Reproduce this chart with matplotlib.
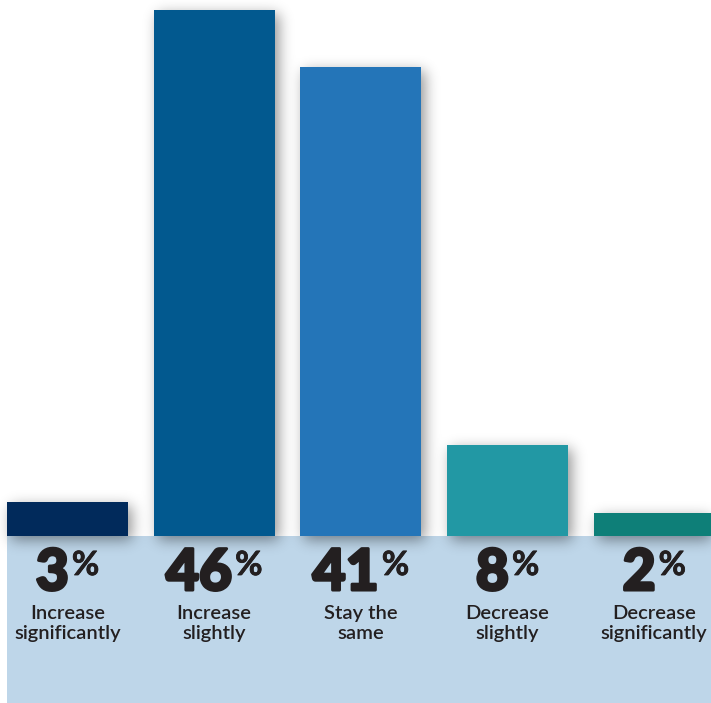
import numpy as np
import matplotlib
matplotlib.use("Agg")
import matplotlib.pyplot as plt
from matplotlib.patches import Rectangle
import matplotlib.patheffects as pe

categories = ["Increase\nsignificantly", "Increase\nslightly", "Stay the\nsame",
              "Decrease\nslightly", "Decrease\nsignificantly"]
values = [3, 46, 41, 8, 2]
colors = ["#012A5B", "#02598F", "#2475B8", "#2298A4", "#0E7F78"]

W, H = 711, 703
fig = plt.figure(figsize=(W / 100, H / 100), dpi=100)
ax = fig.add_axes([0, 0, 1, 1])
ax.set_axis_off()

x = np.arange(len(values))
bar_w = 0.825
ax.set_xlim(-0.46, 4.387)
ax.set_ylim(-14.61, 46.9)

# light band under the baseline
band_left = x[0] - bar_w / 2
ax.add_patch(Rectangle((band_left, -14.61), 10, 14.61, color="#BED6E9", zorder=0, lw=0))

# soft drop shadow built from the bar rectangles
fig.canvas.draw()
mask = np.zeros((H, W))
trans = ax.transData
for xi, v in zip(x, values):
    (x0, y0), (x1, y1) = trans.transform([(xi - bar_w / 2, 0), (xi + bar_w / 2, v)])
    off = 4
    r0 = int(round(H - y1)) + off
    r1 = int(round(H - y0)) + off
    c0 = int(round(x0)) + off
    c1 = int(round(x1)) + off
    mask[max(r0, 0):max(r1, 0), max(c0, 0):min(c1, W)] = 1.0

sigma = 7.0
k = np.arange(-int(3 * sigma), int(3 * sigma) + 1)
kern = np.exp(-k ** 2 / (2 * sigma ** 2))
kern /= kern.sum()
blur = np.apply_along_axis(lambda r: np.convolve(r, kern, mode="same"), 1, mask)
blur = np.apply_along_axis(lambda c: np.convolve(c, kern, mode="same"), 0, blur)
shadow = np.zeros((H, W, 4))
shadow[..., 3] = 0.42 * blur
ax.imshow(shadow, extent=(*ax.get_xlim(), *ax.get_ylim()), origin="upper",
          aspect="auto", zorder=1, interpolation="nearest")

ax.bar(x, values, width=bar_w, color=colors, zorder=2, linewidth=0)

# value labels and category names
renderer = fig.canvas.get_renderer()
ink = "#231F20"
for xi, v, cat in zip(x, values, categories):
    cx = trans.transform((xi, 0))[0]
    t_num = fig.text(0, 0, f"{v}", fontsize=41, va="baseline", ha="left",
                     family="Lato", fontweight="black", color=ink)
    t_pct = fig.text(0, 0, "%", fontsize=24, va="baseline", ha="left",
                     family="Lato", fontweight="bold", color=ink)
    t_num.set_path_effects([pe.withStroke(linewidth=2.2, foreground=ink)])
    t_pct.set_path_effects([pe.withStroke(linewidth=0.6, foreground=ink)])
    wn = t_num.get_window_extent(renderer).width
    wp = t_pct.get_window_extent(renderer).width
    gap = 3
    left = cx - (wn + gap + wp) / 2
    t_num.set_position((left / W, (H - 590) / H))
    t_pct.set_position(((left + wn + gap) / W, (H - 575) / H))
    fig.text(cx / W, (H - 639) / H, cat, ha="center", va="baseline", fontsize=14.5,
             family="Lato", fontweight="semibold", color=ink, linespacing=1.22)

fig.savefig("out.png", dpi=100)
